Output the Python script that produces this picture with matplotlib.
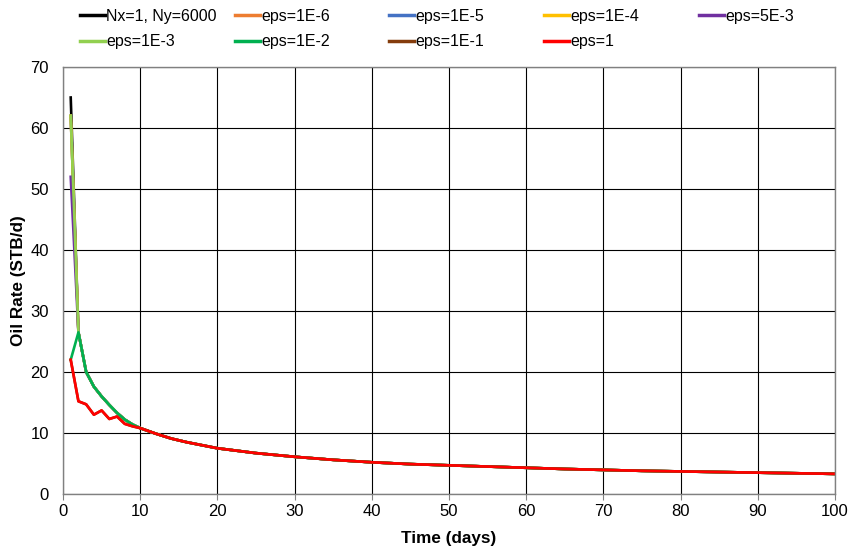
import matplotlib.pyplot as plt
from matplotlib.lines import Line2D

plt.rcParams['font.family'] = ['Liberation Sans', 'DejaVu Sans']

# shared time axis (days)
t_early = [1, 2, 3, 4, 5, 6, 7, 8, 9]
t_tail = [10, 12, 14, 16, 18, 20, 25, 30, 35, 40, 45, 50, 55, 60, 65, 70,
          75, 80, 85, 90, 95, 100]
q_tail = [10.8, 9.9, 9.1, 8.5, 8.0, 7.5, 6.7, 6.1, 5.6, 5.2, 4.9, 4.7, 4.5,
          4.3, 4.1, 3.95, 3.8, 3.7, 3.6, 3.5, 3.4, 3.3]

# early-time oil rates for each case
q_ref = [65.0, 26.5, 20.0, 17.6, 16.0, 14.6, 13.3, 12.2, 11.4]
q_1e6 = [62.0, 26.5, 20.0, 17.6, 16.0, 14.6, 13.3, 12.2, 11.4]
q_1e5 = [62.0, 26.5, 20.0, 17.6, 16.0, 14.6, 13.3, 12.2, 11.4]
q_1e4 = [62.0, 26.5, 20.0, 17.6, 16.0, 14.6, 13.3, 12.2, 11.4]
q_5e3 = [52.0, 26.5, 20.0, 17.6, 16.0, 14.6, 13.3, 12.2, 11.4]
q_1e3 = [62.0, 26.5, 20.0, 17.6, 16.0, 14.6, 13.3, 12.2, 11.4]
q_1e2 = [22.0, 26.5, 20.0, 17.6, 16.0, 14.6, 13.3, 12.2, 11.4]
q_1e1 = [22.0, 15.2, 14.7, 13.0, 13.7, 12.3, 12.7, 11.5, 11.1]
q_1 = [22.0, 15.2, 14.7, 13.0, 13.7, 12.3, 12.7, 11.5, 11.1]

labels = ['Nx=1, Ny=6000', 'eps=1E-6', 'eps=1E-5', 'eps=1E-4', 'eps=5E-3',
          'eps=1E-3', 'eps=1E-2', 'eps=1E-1', 'eps=1']
colors = ['#000000', '#ED7D31', '#4472C4', '#FFC000', '#7030A0',
          '#92D050', '#00B050', '#843C0C', '#FF0000']
series = [q_ref, q_1e6, q_1e5, q_1e4, q_5e3, q_1e3, q_1e2, q_1e1, q_1]

W, H = 850, 551
fig = plt.figure(figsize=(8.5, 5.51), dpi=100)
ax = fig.add_axes([63 / W, 1 - 494 / H, 772 / W, 427 / H])

t = t_early + t_tail
for q, c, lab in zip(series, colors, labels):
    ax.plot(t, q + q_tail, color=c, linewidth=1.9, label=lab,
            solid_joinstyle='round')

ax.set_xlim(0, 100)
ax.set_ylim(0, 70)
ax.set_xticks(range(0, 101, 10))
ax.set_yticks(range(0, 71, 10))
ax.grid(True, color='black', linewidth=0.8)
ax.set_axisbelow(True)
for s in ax.spines.values():
    s.set_color('#808080')
    s.set_linewidth(1.0)
ax.tick_params(axis='x', labelsize=12, length=4.5, color='#808080', pad=3)
ax.tick_params(axis='y', labelsize=12, length=0, pad=10)
ax.set_xlabel('Time (days)', fontsize=12.3, fontweight='bold', labelpad=8)
ax.set_ylabel('Oil Rate (STB/d)', fontsize=12.3, fontweight='bold', labelpad=3)

# legend laid out like the spreadsheet: 5 equal-width columns, 2 rows
handles = [Line2D([], [], color=c, linewidth=2.5) for c in colors]
col_x = [71, 226, 380, 535, 690]
for k, x0 in enumerate(col_x):
    idx = [k, k + 5] if k + 5 < len(labels) else [k]
    fig.legend([handles[i] for i in idx], [labels[i] for i in idx],
               ncol=1, loc='upper left', bbox_to_anchor=(x0 / W, 1.0),
               frameon=False, fontsize=11.5, handlelength=1.55,
               handletextpad=0.1, labelspacing=0.66, borderaxespad=0.0,
               borderpad=0.55)

fig.savefig('out.png', dpi=100)
